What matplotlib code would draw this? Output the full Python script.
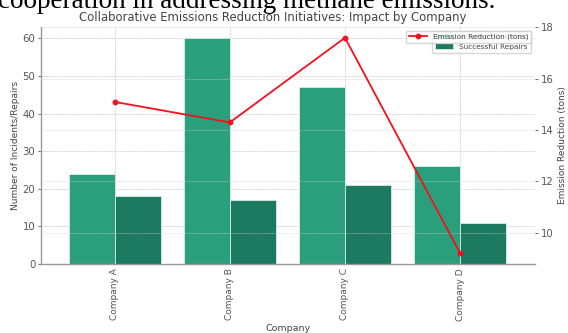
import matplotlib.pyplot as plt
import numpy as np

companies = ["Company A", "Company B", "Company C", "Company D"]
incidents = [24, 60, 47, 26]
repairs = [18, 17, 21, 11]
emission_reduction = [15.1, 14.3, 17.6, 9.2]

plt.rcParams.update({"font.family": "DejaVu Sans", "text.color": "#444444",
                     "axes.labelcolor": "#444444", "xtick.color": "#555555",
                     "ytick.color": "#555555"})

fig = plt.figure(figsize=(5.68, 3.33), dpi=100)
ax1 = fig.add_axes([0.072, 0.207, 0.870, 0.712])
x = np.arange(len(companies))
w = 0.4

ax1.bar(x - w / 2, incidents, width=w, color="#2a9f7c", edgecolor="#d8eee6",
        linewidth=0.6, label="Incidents Detected", zorder=2)
ax1.bar(x + w / 2, repairs, width=w, color="#1b7a60", edgecolor="#d8eee6",
        linewidth=0.6, label="Successful Repairs", zorder=2)
ax1.set_xlim(-0.64, 3.65)
ax1.set_xticks(x)
ax1.set_xticklabels(companies, rotation=90, fontsize=6.5)
ax1.set_ylabel("Number of Incidents/Repairs", fontsize=6.5, labelpad=2)
ax1.set_xlabel("Company", fontsize=6.8, labelpad=2)
ax1.tick_params(axis="y", labelsize=7.3, length=2, width=0.6, pad=2)
ax1.tick_params(axis="x", length=0, pad=3)
ax1.grid(True, color="#d0d0d0", linestyle=(0, (2, 1)), linewidth=0.6, zorder=0)
ax1.set_axisbelow(True)
for s in ["top", "right"]:
    ax1.spines[s].set_visible(False)
for s in ["left", "bottom"]:
    ax1.spines[s].set_color("#999999")
    ax1.spines[s].set_linewidth(1.0)
ax1.set_title("Collaborative Emissions Reduction Initiatives: Impact by Company",
              fontsize=8.4, pad=4, x=0.47)
ax1.legend(loc="upper right", fontsize=5.3, framealpha=0.8, borderpad=0.4,
           handlelength=2.5)

ax2 = ax1.twinx()
ax2.plot(x, emission_reduction, color="#f5101e", marker="o", markersize=3.2,
         linewidth=1.3, label="Emission Reduction (tons)")
ax2.set_ylabel("Emission Reduction (tons)", fontsize=6.5, labelpad=3)
ax2.tick_params(axis="y", labelsize=7.3, length=2, width=0.6, pad=2)
ax2.grid(True, axis="y", color="#d0d0d0", linestyle=(0, (2, 1)), linewidth=0.6,
         alpha=0.6)
for s in ax2.spines.values():
    s.set_visible(False)
ax2.legend(loc="upper right", fontsize=5.3, framealpha=0.8, borderpad=0.4,
           handlelength=2.5)

fig.text(-0.004, 1 - 7.5 / 333, "cooperation in addressing methane emissions.",
         family="Liberation Serif", fontsize=19.5, color="black", va="baseline")

fig.savefig("out.png", dpi=100)
